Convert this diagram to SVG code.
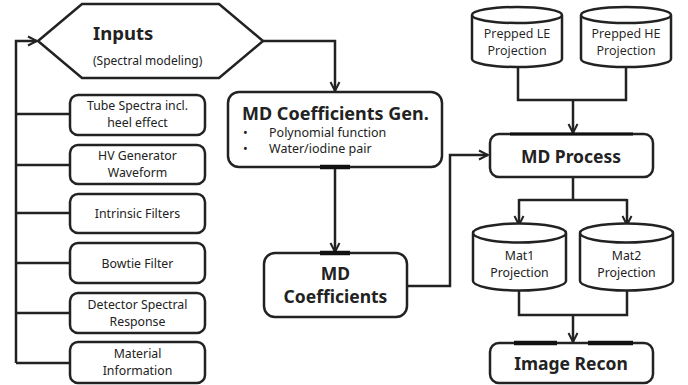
<svg xmlns="http://www.w3.org/2000/svg" width="688" height="385" viewBox="0 0 688 385">
  <defs>
    <marker id="arrow" viewBox="0 0 12 12" refX="10" refY="6" markerWidth="12" markerHeight="12" markerUnits="userSpaceOnUse" orient="auto">
      <path d="M1,1.5 L10,6 L1,10.5" fill="none" stroke="#222" stroke-width="2"/>
    </marker>
    <style>
      .box { fill: #fff; stroke: #222; stroke-width: 2.5; }
      .port { stroke: #111; stroke-width: 4.5; fill: none; }
      .wire { fill: none; stroke: #222; stroke-width: 2.5; }
      .arr { marker-end: url(#arrow); }
      text { font-family: "Noto Sans", "Open Sans", "DejaVu Sans", sans-serif; fill: #222; }
      .sm { font-size: 12.3px; text-anchor: middle; }
      .cyl { font-family: "Open Sans", "Noto Sans", sans-serif; font-size: 12.5px; text-anchor: middle; }
      .big { font-size: 17.5px; font-weight: bold; text-anchor: middle; }
    </style>
  </defs>

  <!-- connectors -->
  <g id="connectors">
    <path class="wire arr" d="M16,363 V41 H37"/>
    <path class="wire" d="M16,114 H70 M16,165 H70 M16,213 H70 M16,263 H70 M16,313 H70 M16,363 H70"/>
    <path class="wire arr" d="M263,41 H335 V91"/>
    <path class="wire arr" d="M335,167 V252"/>
    <path class="wire arr" d="M407,286 H450 V155 H488"/>
    <path class="wire" d="M518,67 V100 H626 V67"/>
    <path class="wire arr" d="M573,100 V133"/>
    <path class="wire" d="M573,177 V200 M519,200 H627"/>
    <path class="wire arr" d="M519,199 V225"/>
    <path class="wire arr" d="M627,199 V225"/>
    <path class="wire" d="M519,290 V315 H627 V290"/>
    <path class="wire arr" d="M573,315 V342"/>
  </g>

  <!-- inputs -->
  <g id="inputs">
    <path class="box" d="M38,41 L82,4 H219 L263,41 L219,78 H82 Z"/>
    <text x="93" y="40" style="font-size:18.5px;font-weight:bold">Inputs</text>
    <text x="93" y="65" style="font-size:12px">(Spectral modeling)</text>
  </g>

  <g id="tube-spectra">
    <rect class="box" x="70" y="95" width="135" height="40" rx="8"/>
    <text class="sm" x="137.5" y="110">Tube Spectra incl.</text>
    <text class="sm" x="137.5" y="127">heel effect</text>
  </g>
  <g id="hv-generator">
    <rect class="box" x="70" y="145" width="135" height="39" rx="8"/>
    <text class="sm" x="137.5" y="160">HV Generator</text>
    <text class="sm" x="137.5" y="177">Waveform</text>
  </g>
  <g id="intrinsic-filters">
    <rect class="box" x="70" y="194" width="135" height="39" rx="8"/>
    <text class="sm" x="137.5" y="218">Intrinsic Filters</text>
  </g>
  <g id="bowtie-filter">
    <rect class="box" x="70" y="243" width="135" height="40" rx="8"/>
    <text class="sm" x="137.5" y="268">Bowtie Filter</text>
  </g>
  <g id="detector-response">
    <rect class="box" x="70" y="293" width="135" height="40" rx="8"/>
    <text class="sm" x="137.5" y="309">Detector Spectral</text>
    <text class="sm" x="137.5" y="326">Response</text>
  </g>
  <g id="material-info">
    <rect class="box" x="70" y="342" width="135" height="41" rx="8"/>
    <text class="sm" x="137.5" y="358">Material</text>
    <text class="sm" x="137.5" y="375">Information</text>
  </g>

  <!-- coefficient generation -->
  <g id="md-coeff-gen">
    <rect class="box" x="228" y="92" width="214" height="75" rx="11"/>
    <line class="port" x1="320" y1="167" x2="350" y2="167"/>
    <text x="242" y="120" style="font-size:18px;font-weight:bold">MD Coefficients Gen.</text>
    <text x="243" y="137" style="font-size:12.5px">•</text>
    <text x="269" y="137" style="font-size:12.5px">Polynomial function</text>
    <text x="243" y="153" style="font-size:12.5px">•</text>
    <text x="269" y="153" style="font-size:12.5px">Water/iodine pair</text>
  </g>

  <g id="md-coefficients">
    <rect class="box" x="264" y="253" width="143" height="64" rx="11"/>
    <line class="port" x1="320" y1="253" x2="350" y2="253"/>
    <text class="big" x="335.5" y="280">MD</text>
    <text class="big" x="335.5" y="303">Coefficients</text>
  </g>

  <!-- projections -->
  <g id="prepped-le">
    <path class="box" d="M472,15 A45,8 0 0 1 562,15 A45,8 0 0 1 472,15 Z M472,15 V59 A45,8 0 0 0 562,59 V15"/>
    <text class="cyl" x="517" y="38">Prepped LE</text>
    <text class="cyl" x="517" y="55">Projection</text>
  </g>
  <g id="prepped-he">
    <path class="box" d="M581,15 A45,8 0 0 1 671,15 A45,8 0 0 1 581,15 Z M581,15 V59 A45,8 0 0 0 671,59 V15"/>
    <text class="cyl" x="626" y="38">Prepped HE</text>
    <text class="cyl" x="626" y="55">Projection</text>
  </g>

  <g id="md-process">
    <rect class="box" x="490" y="134" width="163" height="43" rx="9"/>
    <line x1="510" y1="134" x2="633" y2="134" stroke="#111" stroke-width="3.2"/>
    <text class="big" x="571" y="163">MD Process</text>
  </g>

  <g id="mat1">
    <path class="box" d="M473,233 A46.5,9.5 0 0 1 566,233 A46.5,9.5 0 0 1 473,233 Z M473,233 V281 A46.5,9.5 0 0 0 566,281 V233"/>
    <text class="sm" x="519.5" y="260">Mat1</text>
    <text class="sm" x="519.5" y="277">Projection</text>
  </g>
  <g id="mat2">
    <path class="box" d="M580,233 A46.5,9.5 0 0 1 673,233 A46.5,9.5 0 0 1 580,233 Z M580,233 V281 A46.5,9.5 0 0 0 673,281 V233"/>
    <text class="sm" x="626.5" y="260">Mat2</text>
    <text class="sm" x="626.5" y="277">Projection</text>
  </g>

  <g id="image-recon">
    <rect class="box" x="490" y="343" width="163" height="40" rx="9"/>
    <line class="port" x1="514" y1="343" x2="557" y2="343"/>
    <line class="port" x1="588" y1="343" x2="633" y2="343"/>
    <text class="big" x="571" y="370">Image Recon</text>
  </g>
</svg>
